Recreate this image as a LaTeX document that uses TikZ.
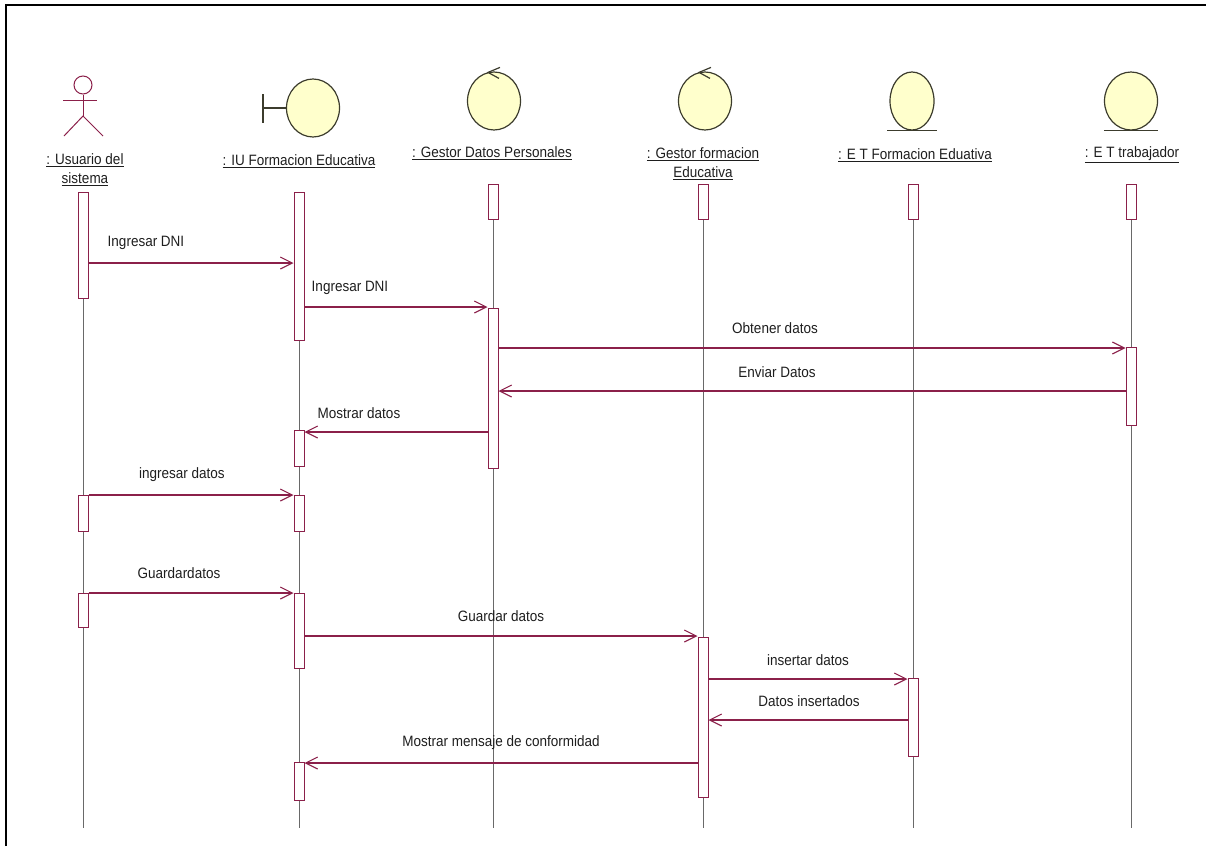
\documentclass[tikz,border=0pt]{standalone}
\usepackage{fontspec}
\setmainfont{Liberation Sans}[FakeStretch=0.9]
\usepackage{tikz}
\usetikzlibrary{arrows.meta}
\usetikzlibrary{shapes.geometric}
\definecolor{msgred}{RGB}{139,32,74}
\definecolor{lifegray}{RGB}{105,105,105}
\definecolor{objfill}{RGB}{255,255,204}
\definecolor{objline}{RGB}{60,60,45}
\definecolor{txtgray}{RGB}{30,30,30}
\tikzset{
  obj_c/.style = {ellipse, draw=objline, fill=objfill, line width=1.2pt, minimum width=53pt, minimum height=58pt, inner sep=0pt},
  obj_l/.style = {font=\fontsize{15}{19}\selectfont, text=txtgray, align=center, inner sep=1pt},
  act_box/.style = {rectangle, draw=msgred, fill=white, minimum width=10pt, inner sep=0pt, line width=1pt},
  life/.style = {draw=lifegray, line width=1pt},
  msg_arr/.style = {draw=msgred, line width=1.1pt, -{Straight Barb[length=12pt,width=12pt]}},
  msg_lbl/.style = {font=\fontsize{15}{17}\selectfont, text=txtgray, inner sep=0pt}
}
\begin{document}
\begin{tikzpicture}[x=1pt, y=-1pt]
    \useasboundingbox (0,0) rectangle (1206,846);
    \draw[line width=2.5pt] (6,846) -- (6,5) -- (1206,5);

    \node[circle, draw=msgred, line width=1pt, minimum size=18pt, inner sep=0pt] (ua_h) at (83,85) {};
    \draw[msgred, line width=1pt] (63,100) -- (97,100);
    \draw[msgred, line width=1pt] (ua_h.south) -- (83,116) coordinate (ua_b);
    \draw[msgred, line width=1pt] (64,136) -- (ua_b) -- (103,136);
    \node[obj_l] (ua_l) at (85,170) {\underline{: Usuario del}\\\underline{sistema}};

    \node[obj_c] (iu_c) at (313,108) {};
    \draw[objline, line width=1.2pt] (263,94) -- (263,123);
    \draw[objline, line width=1.2pt] (263,108) -- (iu_c.west);
    \node[obj_l] (iu_l) at (299,161) {\underline{: IU Formacion Educativa}};

    \node[obj_c] (gd_c) at (494,101) {};
    \draw[objline, line width=1.2pt] (gd_c.north) ++(6,-4) -- ++(-12,5) -- ++(11,6);
    \node[obj_l] (gd_l) at (492,153) {\underline{: Gestor Datos Personales}};

    \node[obj_c] (gf_c) at (705,101) {};
    \draw[objline, line width=1.2pt] (gf_c.north) ++(6,-4) -- ++(-12,5) -- ++(11,6);
    \node[obj_l] (gf_l) at (703,164) {\underline{: Gestor formacion}\\\underline{Educativa}};

    \node[obj_c, minimum width=44pt] (ef_c) at (912,101) {};
    \draw[objline, line width=1.4pt] ([xshift=-2pt]ef_c.south -| ef_c.west) -- ([xshift=2pt]ef_c.south -| ef_c.east);
    \node[obj_l] (ef_l) at (915,155) {\underline{: E T Formacion Eduativa}};

    \node[obj_c] (et_c) at (1131,101) {};
    \draw[objline, line width=1.4pt] (et_c.south -| et_c.west) -- (et_c.south -| et_c.east);
    \node[obj_l] (et_l) at (1132,155) {\underline{: E T trabajador}};

    \coordinate (ua_e) at (83,828);
    \coordinate (iu_e) at (299,828);
    \coordinate (gd_e) at (493,828);
    \coordinate (gf_e) at (703,828);
    \coordinate (ef_e) at (913,828);
    \coordinate (et_e) at (1131,828);
    \draw[life] (83,192) -- (ua_e);
    \draw[life] (299,192) -- (iu_e);
    \draw[life] (493,185) -- (gd_e);
    \draw[life] (703,185) -- (gf_e);
    \draw[life] (913,185) -- (ef_e);
    \draw[life] (1131,185) -- (et_e);

    \node[act_box, minimum height=106pt] (ua1) at (83,245) {};
    \node[act_box, minimum height=36pt] (ua2) at (83,513) {};
    \node[act_box, minimum height=34pt] (ua3) at (83,610) {};
    \node[act_box, minimum height=148pt] (iu1) at (299,266) {};
    \node[act_box, minimum height=36pt] (iu2) at (299,448) {};
    \node[act_box, minimum height=36pt] (iu3) at (299,513) {};
    \node[act_box, minimum height=75pt] (iu4) at (299,631) {};
    \node[act_box, minimum height=38pt] (iu5) at (299,781) {};
    \node[act_box, minimum height=35pt] (gd1) at (493,202) {};
    \node[act_box, minimum height=160pt] (gd2) at (493,388) {};
    \node[act_box, minimum height=35pt] (gf1) at (703,202) {};
    \node[act_box, minimum height=160pt] (gf2) at (703,717) {};
    \node[act_box, minimum height=35pt] (ef1) at (913,202) {};
    \node[act_box, minimum height=78pt] (ef2) at (913,717) {};
    \node[act_box, minimum height=35pt] (et1) at (1131,202) {};
    \node[act_box, minimum height=78pt] (et2) at (1131,386) {};

    \draw[msg_arr] (ua1.east |- 0,263) -- (iu1.west |- 0,263);
    \node[msg_lbl] (m1) at (146,243) {Ingresar DNI};
    \draw[msg_arr] (iu1.east |- 0,307) -- (gd2.west |- 0,307);
    \node[msg_lbl] (m2) at (350,288) {Ingresar DNI};
    \draw[msg_arr] (gd2.east |- 0,348) -- (et2.west |- 0,348);
    \node[msg_lbl] (m3) at (775,328) {Obtener datos};
    \draw[msg_arr] (et2.west |- 0,391) -- (gd2.east |- 0,391);
    \node[msg_lbl] (m4) at (777,372) {Enviar Datos};
    \draw[msg_arr] (gd2.west |- 0,432) -- (iu2.east |- 0,432);
    \node[msg_lbl] (m5) at (359,413) {Mostrar datos};
    \draw[msg_arr] (ua2.east |- 0,495) -- (iu3.west |- 0,495);
    \node[msg_lbl] (m6) at (182,475) {ingresar datos};
    \draw[msg_arr] (ua3.east |- 0,593) -- (iu4.west |- 0,593);
    \node[msg_lbl] (m7) at (179,573) {Guardardatos};
    \draw[msg_arr] (iu4.east |- 0,636) -- (gf2.west |- 0,636);
    \node[msg_lbl] (m8) at (501,616) {Guardar datos};
    \draw[msg_arr] (gf2.east |- 0,679) -- (ef2.west |- 0,679);
    \node[msg_lbl] (m9) at (808,660) {insertar datos};
    \draw[msg_arr] (ef2.west |- 0,720) -- (gf2.east |- 0,720);
    \node[msg_lbl] (m10) at (809,701) {Datos insertados};
    \draw[msg_arr] (gf2.west |- 0,763) -- (iu5.east |- 0,763);
    \node[msg_lbl] (m11) at (501,743) {Mostrar mensaje de conformidad};
\end{tikzpicture}
\end{document}
